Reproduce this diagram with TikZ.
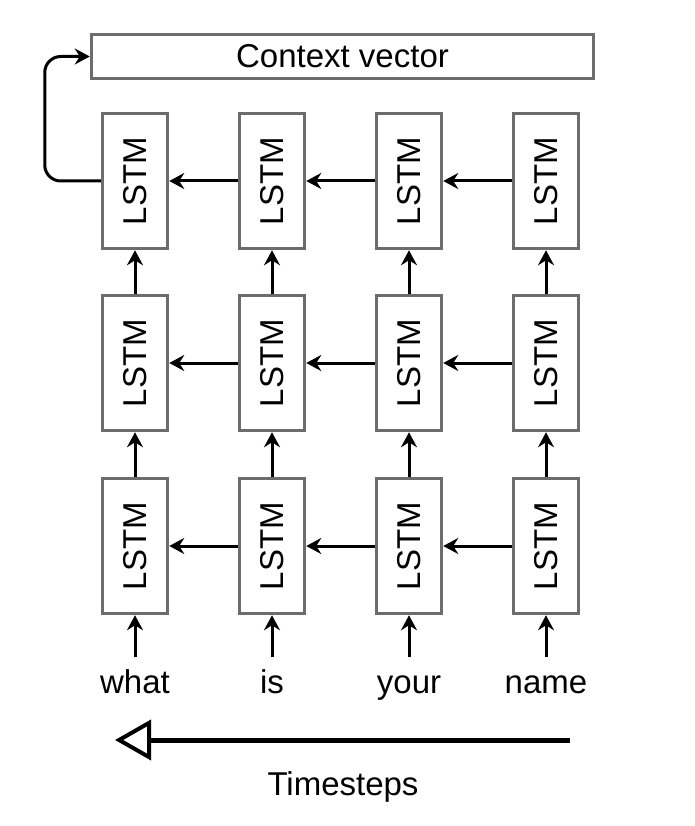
\documentclass[tikz,border=0pt]{standalone}
\usepackage{fontspec}
\setmainfont{Liberation Sans}
\usetikzlibrary{arrows.meta, positioning}

\begin{document}
\begin{tikzpicture}[x = 1pt, y = -1pt,
        lstm/.style = {draw=gray!85!black, line width=3.5pt, fill=white, inner sep=0pt,
            minimum width=65pt, minimum height=135pt, font=\fontsize{33}{38}\selectfont},
        ctxbox/.style = {draw=gray!85!black, line width=3.5pt, fill=white, inner sep=0pt,
            minimum width=502pt, minimum height=44pt, font=\fontsize{33}{38}\selectfont},
        flow/.style = {-{Stealth[length=15pt, width=16pt, inset=5pt]}, line width=3pt},
        word/.style = {anchor=base, text height=24pt, text depth=7pt, font=\fontsize{33}{38}\selectfont}]

            \useasboundingbox (0,0) rectangle (694,826);

            \node[ctxbox] (ctx) at (342.5,56.5) {Context vector};

            \foreach \r/\y in {1/546, 2/363, 3/181}
            \foreach \c/\x in {1/135, 2/272, 3/409, 4/546}
            \node[lstm] (l\r\c) at (\x,\y) {\rotatebox{90}{LSTM}};

            \foreach \r in {1,2,3}
            \foreach \c/\n in {1/2, 2/3, 3/4}
            \draw[flow] (l\r\n.west) -- (l\r\c.east);

            \foreach \r/\n in {1/2, 2/3}
            \foreach \c in {1,2,3,4}
            \draw[flow] (l\r\c.north) -- (l\n\c.south);

            \foreach \c/\x/\w in {1/135/what, 2/272/is, 3/409/your, 4/546/name}{
                \node[word] (w\c) at (\x,693) {\w};
                \draw[flow, shorten <=8pt] (w\c.north) -- (l1\c.south);
            }

            \draw[flow, rounded corners=16pt] (l31.west) -- ++(-56,0) |- (ctx.west);

            \coordinate (tstart) at (570,740);
            \coordinate (tend) at (115,740);
            \draw[line width=5pt, -{Triangle[open, length=36pt, width=40pt, line width=4pt]}]
                (tstart) -- (tend);
            \node[word] (tlabel) at (343,795) {Timesteps};
\end{tikzpicture}
\end{document}
